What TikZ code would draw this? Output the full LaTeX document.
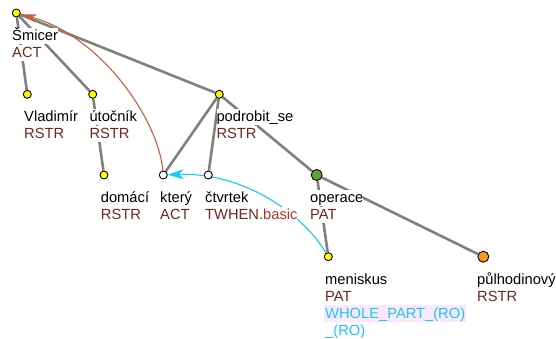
\documentclass[tikz,border=0pt]{standalone}
\usepackage{fontspec}
\setmainfont{Liberation Sans}
\usetikzlibrary{arrows.meta}
\definecolor{edgegray}{RGB}{128,128,128}
\definecolor{nodeyellow}{RGB}{255,255,0}
\definecolor{nodegreen}{RGB}{95,165,45}
\definecolor{nodeorange}{RGB}{255,150,30}
\definecolor{funbrown}{RGB}{110,40,30}
\definecolor{basicred}{RGB}{178,52,40}
\definecolor{corefbrown}{RGB}{200,95,60}
\definecolor{corefcyan}{RGB}{25,200,250}
\definecolor{bridgepink}{RGB}{252,232,252}
\pgfdeclarelayer{bg}
\pgfsetlayers{bg,main}
\begin{document}
\begin{tikzpicture}[x=1pt,y=-1pt,
  lbl/.style={anchor=base west, fill=white, inner sep=0pt, text height=13pt, text depth=3.5pt, font=\fontsize{14.7pt}{17pt}\selectfont},
  fun/.style={lbl, text=funbrown},
  dot/.style={circle, draw=black, line width=0.9pt, minimum size=8pt, inner sep=0pt},
  bigdot/.style={dot, minimum size=11pt},
  edge/.style={draw=edgegray, line width=2.6pt},
  textcoref/.style={draw=corefbrown, line width=1.1pt, -{Stealth[length=16pt,width=8pt,inset=4pt]}},
  bridging/.style={draw=corefcyan, line width=1.1pt, -{Stealth[length=16pt,width=10pt,inset=5pt]}}]
\useasboundingbox (0,0) rectangle (556,339);
% tree nodes
\node[dot, fill=nodeyellow] (root) at (16.3,13.0) {};
\node[dot, fill=nodeyellow] (vladimir) at (27.3,94.3) {};
\node[dot, fill=nodeyellow] (utocnik) at (92.7,94.3) {};
\node[dot, fill=nodeyellow] (podrobit) at (219.3,94.3) {};
\node[dot, fill=nodeyellow] (domaci) at (104,175) {};
\node[dot, fill=white] (ktery) at (163.3,175) {};
\node[dot, fill=white] (ctvrtek) at (208.3,175) {};
\node[bigdot, fill=nodegreen] (operace) at (316.7,175) {};
\node[dot, fill=nodeyellow] (meniskus) at (328.3,256.7) {};
\node[bigdot, fill=nodeorange] (pulhod) at (483.3,256.7) {};
\begin{pgfonlayer}{bg}
% edges
\draw[edge] (root) -- (vladimir);
\draw[edge] (root) -- (utocnik);
\draw[edge] (root) -- (podrobit);
\draw[edge] (utocnik) -- (domaci);
\draw[edge] (podrobit) -- (ktery);
\draw[edge] (podrobit) -- (ctvrtek);
\draw[edge] (podrobit) -- (operace);
\draw[edge] (operace) -- (meniskus);
\draw[edge] (operace) -- (pulhod);
% coreference arrows
\draw[textcoref] (ktery) .. controls (158,118) and (100,36) .. (root);
\draw[bridging] (meniskus) .. controls (300,210) and (240,172) .. (ktery);
% labels
\node[lbl] (l-root-a) at (12,40.8) {Šmicer};
\node[fun] (l-root-b) at (12,57.8) {ACT};
\node[lbl] (l-vlad-a) at (24,121.8) {Vladimír};
\node[fun] (l-vlad-b) at (24,138.8) {RSTR};
\node[lbl] (l-uto-a) at (89.3,121.8) {útočník};
\node[fun] (l-uto-b) at (89.3,138.8) {RSTR};
\node[lbl] (l-pod-a) at (216.3,121.8) {podrobit\_se};
\node[fun] (l-pod-b) at (216.3,138.8) {RSTR};
\node[lbl] (l-dom-a) at (100.7,202.5) {domácí};
\node[fun] (l-dom-b) at (100.7,219.5) {RSTR};
\node[lbl] (l-kt-a) at (160,202.5) {který};
\node[fun] (l-kt-b) at (160,219.5) {ACT};
\node[lbl] (l-ctv-a) at (205,202.5) {čtvrtek};
\node[fun] (l-ctv-b) at (205,219.5) {TWHEN.\textcolor{basicred}{basic}};
\node[lbl] (l-op-a) at (310,202.5) {operace};
\node[fun] (l-op-b) at (310,219.5) {PAT};
\node[lbl] (l-men-a) at (325,284.2) {meniskus};
\node[fun] (l-men-b) at (325,301.2) {PAT};
\node[lbl, fill=bridgepink, text=corefcyan, inner xsep=1pt] (l-men-c) at (324,318.2) {WHOLE\_PART\_(RO)};
\node[lbl, text=corefcyan] (l-men-d) at (325,335.2) {\_(RO)};
\node[lbl] (l-pul-a) at (477,284.2) {půlhodinový};
\node[fun] (l-pul-b) at (477,301.2) {RSTR};
\end{pgfonlayer}
\end{tikzpicture}
\end{document}
